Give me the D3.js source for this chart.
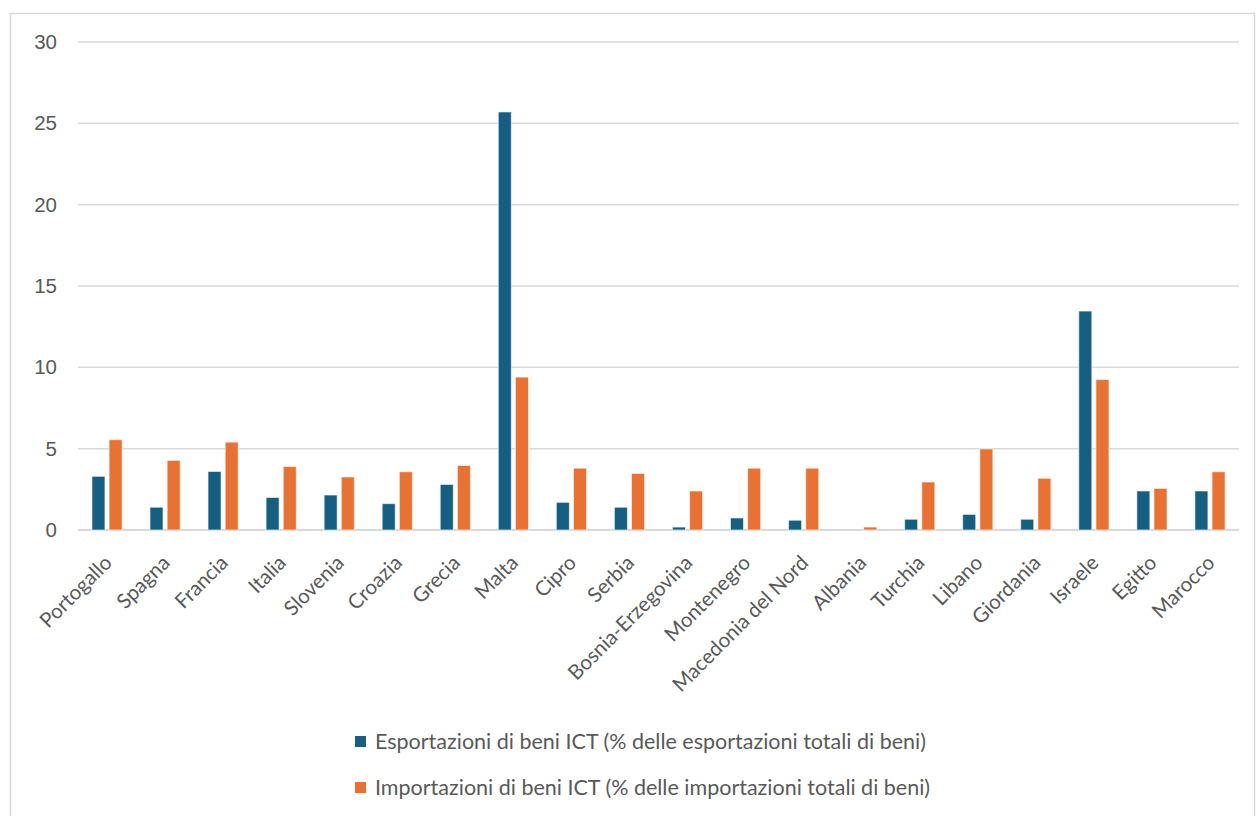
<!DOCTYPE html>
<html>
<head>
<meta charset="utf-8">
<script src="https://cdn.jsdelivr.net/npm/d3@7"></script>
<style>
  body { margin: 0; background: #fff; }
  text { fill: #595959; }
</style>
</head>
<body>
<svg id="chart"></svg>
<script>
// dati
var paesi = ["Portogallo", "Spagna", "Francia", "Italia", "Slovenia", "Croazia", "Grecia", "Malta",
             "Cipro", "Serbia", "Bosnia-Erzegovina", "Montenegro", "Macedonia del Nord", "Albania",
             "Turchia", "Libano", "Giordania", "Israele", "Egitto", "Marocco"];
var esportazioni = [3.3, 1.4, 3.6, 2.0, 2.15, 1.62, 2.8, 25.7, 1.7, 1.4, 0.18, 0.74, 0.6, 0,
                    0.66, 0.96, 0.66, 13.46, 2.4, 2.4];
var importazioni = [5.55, 4.28, 5.4, 3.9, 3.26, 3.58, 3.97, 9.4, 3.8, 3.48, 2.4, 3.8, 3.8, 0.18,
                    2.95, 4.98, 3.18, 9.25, 2.56, 3.58];
var serie = ["Esportazioni di beni ICT (% delle esportazioni totali di beni)",
             "Importazioni di beni ICT (% delle importazioni totali di beni)"];
var colori = ["#156082", "#e97132"];
var yTicks = [0, 5, 10, 15, 20, 25, 30];

var width = 1257, height = 816;
var margin = {top: 42, left: 78, right: 18, bottom: 286};

var svg = d3.select("#chart")
            .attr("width", width)
            .attr("height", height);

// cornice
svg.append("rect")
   .attr("x", 10.5).attr("y", 13.5)
   .attr("width", 1244).attr("height", 830)
   .attr("fill", "none")
   .attr("stroke", "#d9d9d9")
   .attr("stroke-width", 1.5);

var x0 = d3.scaleBand()
           .domain(paesi)
           .range([margin.left, width - margin.right])
           .paddingInner(0.48)
           .paddingOuter(0.24);

var x1 = d3.scaleBand()
           .domain([0, 1])
           .range([0, x0.bandwidth()])
           .paddingInner(0.24)
           .paddingOuter(0);

var y = d3.scaleLinear()
          .domain([0, 30])
          .range([height - margin.bottom, margin.top]);

// griglia
svg.append("g")
   .selectAll("line")
   .data(yTicks)
   .enter()
   .append("line")
   .attr("x1", margin.left)
   .attr("x2", width - margin.right)
   .attr("y1", function(d){ return y(d); })
   .attr("y2", function(d){ return y(d); })
   .attr("stroke", "#d9d9d9")
   .attr("stroke-width", function(d){ return d == 0 ? 2 : 1.5; });

// asse y
var yAxis = svg.append("g")
               .attr("transform", "translate(" + (margin.left - 21) + ",0)")
               .call(d3.axisLeft(y).tickValues(yTicks).tickSize(0).tickPadding(0));
yAxis.select(".domain").remove();
yAxis.selectAll("text")
     .attr("font-family", "Liberation Sans, Arial, sans-serif")
     .attr("font-size", "20.5px")
     .attr("fill", "#595959");

// barre
var gruppi = svg.append("g")
                .selectAll("g")
                .data(paesi)
                .enter()
                .append("g")
                .attr("transform", function(d){ return "translate(" + x0(d) + ",0)"; });

gruppi.selectAll("rect")
      .data(function(d, i){ return [esportazioni[i], importazioni[i]]; })
      .enter()
      .append("rect")
      .attr("x", function(d, j){ return x1(j); })
      .attr("width", x1.bandwidth())
      .attr("y", function(d){ return y(d); })
      .attr("height", function(d){ return y(0) - y(d); })
      .attr("fill", function(d, j){ return colori[j]; })
      .attr("stroke", "#ffffff")
      .attr("stroke-opacity", 0.6)
      .attr("stroke-width", 1)
      .style("display", function(d){ return d > 0 ? null : "none"; });

// etichette asse x
svg.append("g")
   .selectAll("text")
   .data(paesi)
   .enter()
   .append("text")
   .attr("transform", function(d){
     var cx = x0(d) + x0.bandwidth() / 2 + 1;
     return "translate(" + cx + "," + (y(0) + 29) + ") rotate(-45)";
   })
   .attr("text-anchor", "end")
   .attr("dy", "0.35em")
   .attr("font-family", "Lato, Noto Sans, sans-serif")
   .attr("font-size", "20.5px")
   .text(function(d){ return d; });

// legenda
var legenda = svg.append("g")
                 .selectAll("g")
                 .data(serie)
                 .enter()
                 .append("g")
                 .attr("transform", function(d, i){ return "translate(355," + (741 + i * 46) + ")"; });

legenda.append("rect")
       .attr("x", 0).attr("y", -5)
       .attr("width", 11).attr("height", 11)
       .attr("fill", function(d, i){ return colori[i]; });

legenda.append("text")
       .attr("x", 20)
       .attr("dy", "0.35em")
       .attr("font-family", "Lato, Noto Sans, sans-serif")
       .attr("font-size", "21.5px")
       .text(function(d){ return d; });
</script>
</body>
</html>
